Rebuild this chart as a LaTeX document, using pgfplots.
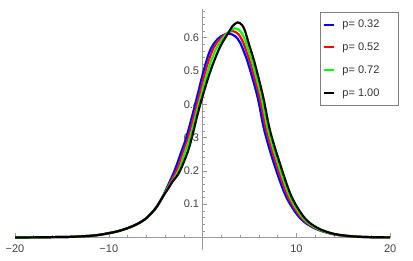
\documentclass[border=0pt]{standalone}
\usepackage{fontspec}
\setmainfont{Liberation Sans}
\usepackage{pgfplots}
\pgfplotsset{compat=1.18}
\begin{document}
\begin{tikzpicture}
\begin{axis}[
  at={(15bp,10.85bp)}, anchor=south west,
  x=9.38bp, y=333bp,
  xmin=-20, xmax=20, ymin=-0.038, ymax=0.686,
  axis lines=middle,
  set layers=standard,
  axis line style={black!40, line width=0.6bp, -},
  xtick={-20,-10,10,20},
  xticklabels={−20,−10,10,20},
  minor xtick={-18,-16,-14,-12,-8,-6,-4,-2,2,4,6,8,12,14,16,18},
  ytick={0.1,0.2,0.3,0.4,0.5,0.6},
  yticklabels={0.1,0.2,0.3,0.4,0.5,0.6},
  minor ytick={0.02,0.04,0.06,0.08,0.12,0.14,0.16,0.18,0.22,0.24,0.26,0.28,0.32,0.34,0.36,0.38,0.42,0.44,0.46,0.48,0.52,0.54,0.56,0.58,0.62,0.64,0.66,0.68},
  tick align=inside,
  major tick length=4.5bp, minor tick length=2.5bp,
  tick style={black!40, line width=0.6bp},
  ticklabel style={font=\fontsize{11bp}{13bp}\selectfont, text=black!75},
  xticklabel style={yshift=-4bp},
  legend style={at={(1.022,0.989)}, anchor=north east, draw=black!50, line width=0.6bp, fill=white,
    inner xsep=2.7bp, inner ysep=6bp, row sep=9.6bp, column sep=5.7bp,
    font=\fontsize{11bp}{13bp}\selectfont, text=black!80,
    nodes={inner sep=2bp, text depth=0.15em}},
  legend cell align=left,
  legend image code/.code={\draw[#1, line width=2bp] (0bp,0bp) -- (10bp,0bp);},
]
\addplot[blue, line width=2.2bp, smooth, tension=0.55] coordinates {
(-20,0) (-18,0.0004) (-16,0.0011) (-14,0.002) (-12,0.005) (-11,0.008) (-10,0.013) (-9,0.019) (-8,0.028) (-7,0.04) (-6,0.058) (-5,0.088)
(-4.3,0.12) (-3.8,0.15) (-3.0,0.2) (-2.3,0.255) (-1.74,0.3) (-0.85,0.393) (0.04,0.493) (0.7,0.555) (1.3,0.586) (2.0,0.605) (2.8,0.612) (3.5,0.604) (4.0,0.585) (4.4,0.558) (4.85,0.523) (5.85,0.423) (6.57,0.323) (7.6,0.223) (8.9,0.123) (10.4,0.058) (12.0,0.027) (14,0.0095) (16,0.003) (18,0.0009) (20,0.0003)
};
\addlegendentry{\makebox[51bp][l]{p= 0.32}}
\addplot[red, line width=2.2bp, smooth, tension=0.55] coordinates {
(-20,0) (-18,0.0004) (-16,0.0011) (-14,0.002) (-12,0.005) (-11,0.008) (-10,0.013) (-9,0.019) (-8,0.028) (-7,0.04) (-6,0.058) (-5,0.088)
(-4.3,0.12) (-3.75,0.15) (-2.8,0.2) (-2.1,0.255) (-1.54,0.3) (-0.65,0.395) (0.3,0.5) (0.95,0.555) (1.5,0.585) (2.1,0.603) (2.7,0.615) (3.2,0.62) (3.8,0.611) (4.3,0.587) (4.7,0.556) (5.09,0.523) (6.05,0.423) (6.77,0.323) (7.81,0.223) (9.09,0.123) (10.57,0.058) (12.1,0.027) (14,0.01) (16,0.0032) (18,0.0009) (20,0.0003)
};
\addlegendentry{\makebox[51bp][l]{p= 0.52}}
\addplot[green, line width=2.2bp, smooth, tension=0.55] coordinates {
(-20,0) (-18,0.0004) (-16,0.0011) (-14,0.002) (-12,0.005) (-11,0.008) (-10,0.013) (-9,0.019) (-8,0.028) (-7,0.04) (-6,0.058) (-5,0.088)
(-4.3,0.12) (-3.68,0.15) (-2.58,0.2) (-1.9,0.255) (-1.35,0.3) (-0.45,0.397) (0.55,0.5) (1.25,0.555) (1.8,0.585) (2.3,0.603) (2.8,0.617) (3.4,0.628) (4.0,0.62) (4.5,0.595) (4.9,0.56) (5.32,0.523) (6.25,0.423) (6.97,0.323) (8.02,0.223) (9.29,0.123) (10.73,0.058) (12.2,0.027) (14,0.0105) (16,0.0034) (18,0.001) (20,0.0003)
};
\addlegendentry{\makebox[51bp][l]{p= 0.72}}
\addplot[black, line width=2.2bp, smooth, tension=0.55] coordinates {
(-20,0) (-18,0.0004) (-16,0.0011) (-14,0.002) (-12,0.005) (-11,0.008) (-10,0.013) (-9,0.019) (-8,0.028) (-7,0.04) (-6,0.058) (-5,0.088)
(-4.25,0.122) (-3.6,0.15) (-3.2,0.168) (-2.7,0.186) (-2.3,0.207) (-1.6,0.256) (-1.15,0.3) (-0.3,0.395) (0.75,0.493) (1.6,0.556) (2.2,0.59) (2.7,0.612) (3.2,0.635) (3.75,0.646) (4.2,0.638) (4.5,0.622) (5.0,0.575) (5.56,0.523) (6.45,0.423) (7.17,0.323) (8.23,0.223) (9.48,0.123) (10.9,0.058) (12.3,0.028) (14,0.011) (16,0.0035) (18,0.001) (20,0.0003)
};
\addlegendentry{\makebox[51bp][l]{p= 1.00}}
\end{axis}
\pgfresetboundingbox
\path[use as bounding box] (0,0) rectangle (413bp,261bp);
\end{tikzpicture}
\end{document}
